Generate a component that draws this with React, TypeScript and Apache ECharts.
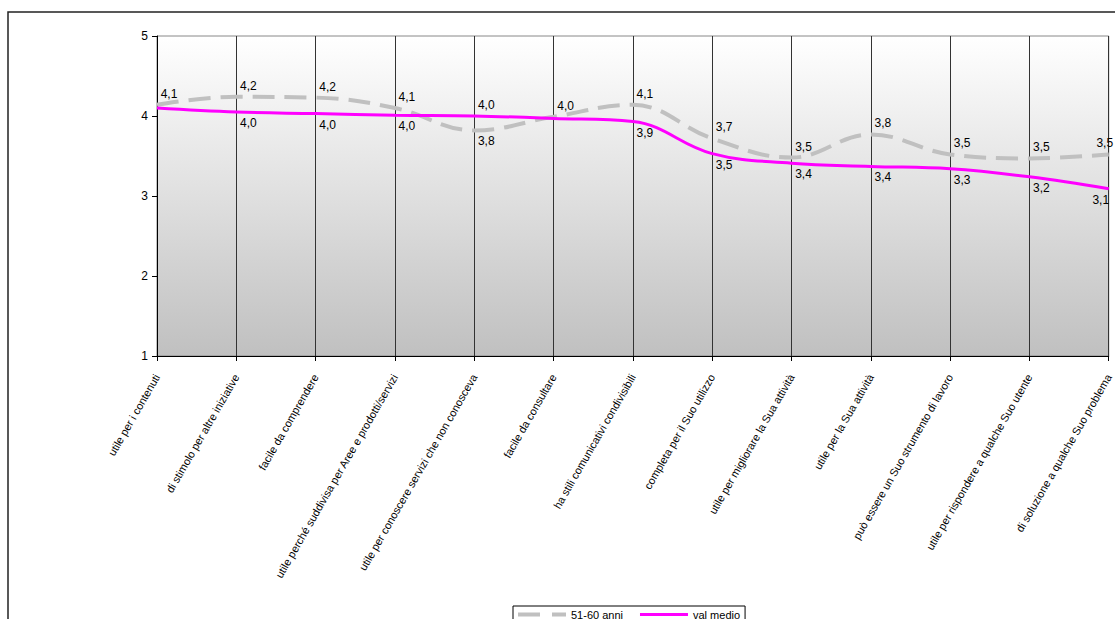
import React, { useEffect, useRef } from "react";
import * as echarts from "echarts";

const categories = [
  "utile per i contenuti",
  "di stimolo per altre iniziative",
  "facile da comprendere",
  "utile perché suddivisa per Aree e prodotti/servizi",
  "utile per conoscere servizi che non conosceva",
  "facile da consultare",
  "ha stili comunicativi condivisibili",
  "completa per il Suo utilizzo",
  "utile per migliorare la Sua attività",
  "utile per la Sua attività",
  "può essere un Suo strumento di lavoro",
  "utile per rispondere a qualche Suo utente",
  "di soluzione a qualche Suo problema",
];

const seriesAnni = [4.14, 4.24, 4.23, 4.1, 3.82, 3.99, 4.14, 3.72, 3.48, 3.77, 3.52, 3.47, 3.52];
const seriesMedio = [4.1, 4.05, 4.03, 4.01, 4.0, 3.97, 3.93, 3.53, 3.41, 3.37, 3.34, 3.24, 3.09];

const yTicks = [1, 2, 3, 4, 5];

const fmt = (v: number) => v.toFixed(1).replace(".", ",");

export default function App() {
  const ref = useRef<HTMLDivElement>(null);
  useEffect(() => {
    document.body.style.margin = "0";
    if (!ref.current) return;
    const chart = echarts.init(ref.current, null, { renderer: "svg" });
    const font = "'Liberation Sans', Arial, sans-serif";
    const last = categories.length - 1;

    const anniData = seriesAnni.map((v, i) => {
      const above = v >= seriesMedio[i];
      return {
        value: v,
        label: {
          position: above ? "top" : "bottom",
          offset: [i === last ? -4 : 12, 0],
        },
      };
    });
    const medioData = seriesMedio.map((v, i) => {
      const above = v > seriesAnni[i];
      const hide = fmt(v) === fmt(seriesAnni[i]);
      return {
        value: v,
        label: {
          show: !hide,
          position: above ? "top" : "bottom",
          offset: [i === last ? -8 : 12, 0],
        },
      };
    });

    const labelCfg = {
      show: true,
      formatter: (p: any) => fmt(p.value),
      fontSize: 12,
      color: "#000",
      fontFamily: font,
      distance: 5,
    };

    chart.setOption({
      animation: false,
      backgroundColor: "#fff",
      textStyle: { fontFamily: font },
      graphic: [
        {
          type: "rect",
          shape: { x: 8, y: 12, width: 1300, height: 800 },
          style: { fill: "none", stroke: "#222", lineWidth: 1.5 },
          z: 0,
        },
      ],
      legend: {
        left: 513,
        top: 606,
        orient: "horizontal",
        padding: [3, 5, 4, 5],
        itemGap: 17,
        itemWidth: 48,
        itemHeight: 4,
        borderColor: "#000",
        borderWidth: 1,
        textStyle: { fontFamily: font, fontSize: 11, color: "#000" },
        data: [
          { name: "51-60 anni", icon: "path://M0,0H22V4H0Z M34,0H48V4H34Z" },
          { name: "val medio", icon: "path://M0,0H48V3H0Z" },
        ],
      },
      grid: {
        left: 157,
        right: 5,
        top: 36,
        bottom: 263,
        show: true,
        borderColor: "#888",
        borderWidth: 1,
        backgroundColor: new echarts.graphic.LinearGradient(0, 0, 0, 1, [
          { offset: 0, color: "#ffffff" },
          { offset: 1, color: "#c0c0c0" },
        ]),
      },
      xAxis: {
        type: "category",
        data: categories,
        boundaryGap: false,
        axisLine: { lineStyle: { color: "#000", width: 1 } },
        axisTick: { show: true, length: 5, lineStyle: { color: "#000" } },
        splitLine: { show: true, lineStyle: { color: "#333", width: 1 } },
        axisLabel: {
          rotate: 60,
          interval: 0,
          margin: 19,
          fontSize: 11,
          color: "#000",
          fontFamily: font,
        },
      },
      yAxis: {
        type: "value",
        min: yTicks[0],
        max: yTicks[yTicks.length - 1],
        interval: 1,
        axisLine: { show: true, lineStyle: { color: "#000", width: 1 } },
        axisTick: { show: true, length: 5, lineStyle: { color: "#000" } },
        splitLine: { show: false },
        axisLabel: { fontSize: 12, color: "#000", margin: 9, fontFamily: font },
      },
      series: [
        {
          name: "51-60 anni",
          type: "line",
          smooth: 0.4,
          symbol: "circle",
          symbolSize: 0,
          showSymbol: true,
          data: anniData,
          lineStyle: { color: "#c0c0c0", width: 4, type: [22, 10] },
          itemStyle: { color: "#c0c0c0" },
          label: labelCfg,
          z: 3,
        },
        {
          name: "val medio",
          type: "line",
          smooth: 0.4,
          symbol: "circle",
          symbolSize: 0,
          showSymbol: true,
          data: medioData,
          lineStyle: { color: "#ff00ff", width: 3 },
          itemStyle: { color: "#ff00ff" },
          label: labelCfg,
          z: 4,
        },
      ],
    });
    return () => chart.dispose();
  }, []);
  return <div ref={ref} style={{ width: 1115, height: 619 }} />;
}
